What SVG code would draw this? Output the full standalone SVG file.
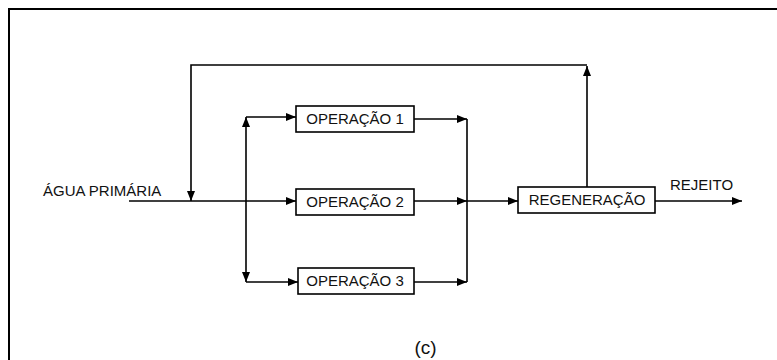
<svg xmlns="http://www.w3.org/2000/svg" width="777" height="360" viewBox="0 0 777 360">
<defs>
<marker id="arr" viewBox="0 0 10 8" refX="10" refY="4" markerWidth="10" markerHeight="8" markerUnits="userSpaceOnUse" orient="auto">
<path d="M0,0 L10,4 L0,8 Z" fill="#000"/>
</marker>
</defs>
<style>
.box{fill:#fff;stroke:#000;stroke-width:1.6}
.ln{fill:none;stroke:#000;stroke-width:1.6}
.t{font-family:"Liberation Sans",Arial,sans-serif;font-size:15px;fill:#111}
.m{text-anchor:middle}
</style>
<rect width="777" height="360" fill="#fff"/>
<path d="M9,360 V9 H777" fill="none" stroke="#000" stroke-width="2"/>
<g id="connectors">
<path class="ln" d="M129,201 H296" marker-end="url(#arr)"/>
<path class="ln" d="M246,201 V117" marker-end="url(#arr)"/>
<path class="ln" d="M246,201 V282" marker-end="url(#arr)"/>
<path class="ln" d="M246,117 H296" marker-end="url(#arr)"/>
<path class="ln" d="M246,282 H298" marker-end="url(#arr)"/>
<path class="ln" d="M414,119 H467" marker-end="url(#arr)"/>
<path class="ln" d="M414,201 H467" marker-end="url(#arr)"/>
<path class="ln" d="M414,282 H467" marker-end="url(#arr)"/>
<path class="ln" d="M467,119 V282"/>
<path class="ln" d="M467,201 H518" marker-end="url(#arr)"/>
<path class="ln" d="M655,201 H742" marker-end="url(#arr)"/>
<path class="ln" d="M587,187 V66" marker-end="url(#arr)"/>
<path class="ln" d="M587,65 H191 V201" marker-end="url(#arr)"/>
</g>
<g id="agua"><text class="t" x="43" y="196">ÁGUA PRIMÁRIA</text></g>
<g id="op1"><rect class="box" x="296" y="106" width="118" height="26"/><text class="t m" x="355" y="124">OPERAÇÃO 1</text></g>
<g id="op2"><rect class="box" x="296" y="189" width="118" height="26"/><text class="t m" x="355" y="207">OPERAÇÃO 2</text></g>
<g id="op3"><rect class="box" x="298" y="268" width="116" height="26"/><text class="t m" x="355" y="286">OPERAÇÃO 3</text></g>
<g id="reg"><rect class="box" x="518" y="187" width="137" height="26"/><text class="t m" x="587" y="205">REGENERAÇÃO</text></g>
<g id="rejeito"><text class="t" x="670" y="190">REJEITO</text></g>
<text x="425.5" y="354" font-family="Liberation Sans, Arial, sans-serif" font-size="19" text-anchor="middle" fill="#111">(c)</text>
</svg>
